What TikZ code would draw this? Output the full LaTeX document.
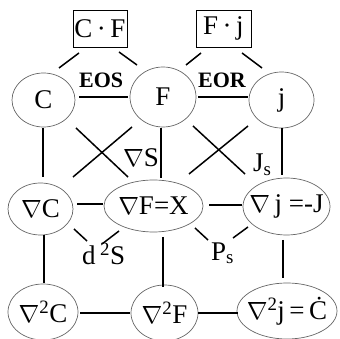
\documentclass[tikz,border=0pt]{standalone}
\usepackage{fontspec}
\setmainfont{Liberation Serif}
\usetikzlibrary{shapes.geometric,calc}
\tikzset{
  ell/.style 2 args={ellipse, draw=black!60, line width=0.7pt, minimum width=#1pt, minimum height=#2pt, inner sep=0pt},
  boxn/.style 2 args={rectangle, draw=black, line width=0.8pt, minimum width=#1pt, minimum height=#2pt, inner sep=0pt},
  conn/.style={line width=1.5pt},
  lbl/.style={inner sep=0pt, anchor=base west},
  blbl/.style={inner sep=0pt, anchor=base west, font=\fontsize{22}{24}\selectfont\bfseries},
}
\newcommand{\zw}[1]{\makebox[0pt]{#1}}
\begin{document}
\begin{tikzpicture}[x=1pt, y=-1pt, font=\fontsize{27}{30}\selectfont]
\useasboundingbox (0,0) rectangle (340,339);
% boxes
\node[boxn={54}{37}] (CF) at (100,28.5) {\zw{C\,·\,F}};
\node[boxn={55}{37}] (Fj) at (223.5,28.5) {\zw{F\,·\,j}};
% row 1
\node[ell={63}{54}] (C) at (43.5,100) {\zw{C}};
\node[ell={66}{60}] (F) at (163,97) {\zw{F}};
\node[ell={65}{56}] (j) at (281.5,100) {\zw{j}};
% row 2
\node[ell={65}{52}] (dC) at (40.5,209) {\zw{$\nabla$C}};
\node[ell={99}{52}] (dF) at (153.5,206) {\zw{$\nabla$F=X}};
\node[ell={87}{57}] (dj) at (286.5,206.5) {\zw{$\nabla$\,j =-J}};
% row 3
\node[ell={70}{56}] (ddC) at (43,312) {\zw{$\nabla$\textsuperscript{2}C}};
\node[ell={67}{56}] (ddF) at (164.5,313) {\zw{$\nabla$\textsuperscript{2}F}};
\node[ell={100}{56}] (ddj) at (287,311) {\zw{$\nabla$\textsuperscript{2}j\,=\,Ċ}};
% labels
\node[blbl] (eos) at (79,88) {EOS};
\node[blbl] (eor) at (198,88) {EOR};
\node[lbl] (gS) at (123,167) {$\nabla$S};
\node[lbl] (Js) at (253,172) {J\textsubscript{s}};
\node[lbl] (d2S) at (82,265) {d\,\textsuperscript{2}S};
\node[lbl] (Ps) at (211,260) {P\textsubscript{s}};
% connectors
\draw[conn] ($(CF.center)+(-21,24.5)$) -- ($(C.center)+(15.5,-32)$);
\draw[conn] ($(CF.center)+(19,23.5)$) -- ($(F.center)+(-26,-32)$);
\draw[conn] ($(Fj.center)+(-22.5,24.5)$) -- ($(F.center)+(23,-32)$);
\draw[conn] ($(Fj.center)+(18.5,24.5)$) -- ($(j.center)+(-19.5,-32)$);
\draw[conn] ($(C.center)+(35.5,-3)$) -- ($(F.center)+(-35,0)$);
\draw[conn] ($(F.center)+(35,0)$) -- ($(j.center)+(-33.5,-3)$);
\draw[conn] ($(C.center)+(-0.5,28)$) -- ($(dC.center)+(2.5,-32)$);
\draw[conn] ($(F.center)+(-2,31)$) -- ($(dF.center)+(7.5,-28)$);
\draw[conn] ($(j.center)+(0.5,28)$) -- ($(dj.center)+(-4.5,-31.5)$);
\draw[conn] ($(C.center)+(32.5,28)$) -- ($(dF.center)+(-25.5,-29)$);
\draw[conn] ($(F.center)+(-31,30)$) -- ($(dC.center)+(32.5,-32)$);
\draw[conn] ($(F.center)+(30,29)$) -- ($(dj.center)+(-41.5,-32.5)$);
\draw[conn] ($(j.center)+(-33.5,26)$) -- ($(dF.center)+(35.5,-32)$);
\draw[conn] ($(dC.center)+(36.5,-5)$) -- ($(dF.center)+(-50.5,-2)$);
\draw[conn] ($(dF.center)+(55.5,-1)$) -- ($(dj.center)+(-44.5,-1.5)$);
\draw[conn] ($(dC.center)+(33.5,20)$) -- ($(d2S.base west)+(5,-24)$);
\draw[conn] ($(dF.center)+(-34.5,25)$) -- ($(d2S.base west)+(20,-21)$);
\draw[conn] ($(dF.center)+(41.5,22)$) -- ($(Ps.base west)+(-3,-20)$);
\draw[conn] ($(dj.center)+(-38.5,20.5)$) -- ($(Ps.base west)+(22,-22)$);
\draw[conn] ($(dC.center)+(3.5,26)$) -- ($(ddC.center)+(1,-29)$);
\draw[conn] ($(dF.center)+(9.5,31)$) -- ($(ddF.center)+(-1.5,-26)$);
\draw[conn] ($(dj.center)+(-3.5,33.5)$) -- ($(ddj.center)+(-4,-33)$);
\draw[conn] ($(ddC.center)+(37,1)$) -- ($(ddF.center)+(-34.5,0)$);
\draw[conn] ($(ddF.center)+(33.5,0)$) -- ($(ddj.center)+(-49,2)$);
\end{tikzpicture}
\end{document}
